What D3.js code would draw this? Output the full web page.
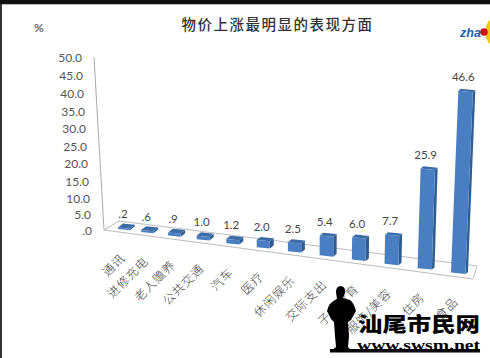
<!DOCTYPE html>
<html>
<head>
<meta charset="utf-8">
<script src="https://cdn.jsdelivr.net/npm/d3@7"></script>
<style>
  html, body { margin: 0; padding: 0; background: #fff; overflow: hidden; }
</style>
</head>
<body>
<div id="chart"></div>
<script>
// Price rise chart, fake 3D column look like the Excel original
const categories = ["通讯", "进修充电", "老人赡养", "公共交通", "汽车", "医疗", "休闲娱乐", "交际支出", "子女教育", "服饰/美容", "住房", "食品"];
const values = [0.2, 0.6, 0.9, 1.0, 1.2, 2.0, 2.5, 5.4, 6.0, 7.7, 25.9, 46.6];
const ticks = [0, 5, 10, 15, 20, 25, 30, 35, 40, 45, 50];

const width = 490, height = 358;
const sans = "Lato, 'Noto Sans CJK SC', sans-serif";
const cjk = "'Noto Sans CJK SC', sans-serif";

const svg = d3.select("#chart").append("svg")
  .attr("width", width)
  .attr("height", height)
  .style("display", "block");

// screenshot edge
svg.append("rect").attr("width", width).attr("height", 4).attr("fill", "#111");
svg.append("rect").attr("y", 4).attr("width", width).attr("height", 1).attr("fill", "#bbb");
svg.append("rect").attr("y", 4).attr("width", 2).attr("height", height).attr("fill", "#333");

// Projection scales: columns get wider apart toward the viewer on the right
const baseX = d3.scalePow().exponent(1.11).domain([0, 11]).range([118, 451]);
const baseY = d3.scaleLinear().domain([118, 451]).range([229, 272.5]);
const lean = d3.scaleLinear().domain([104, 450]).range([-0.058, 0.04]);
const unit = d3.scaleLinear().domain([0, 11]).range([3.3, 3.9]);
const faceW = d3.scaleLinear().domain([0, 11]).range([12, 14.5]);
const depthX = d3.scaleLinear().domain([0, 11]).range([5, 2.5]);
const depthY = d3.scaleLinear().domain([0, 11]).range([4, 2]);

// slanted value axis
const y = d3.scalePow().exponent(1.04).domain([0, 50]).range([231, 58]);
const axisX = d3.scaleLinear().domain([0, 50]).range([104, 94]);

const axisG = svg.append("g");
axisG.append("line")
  .attr("x1", axisX(0)).attr("y1", y(0) - 1)
  .attr("x2", axisX(50)).attr("y2", y(50) - 1)
  .attr("stroke", "#aaa");

axisG.selectAll("text")
  .data(ticks)
  .join("text")
  .attr("x", d => axisX(d) - 12)
  .attr("y", d => y(d))
  .attr("dy", "0.35em")
  .attr("text-anchor", "end")
  .style("font-family", sans)
  .style("font-size", "12px")
  .style("fill", "#555")
  .text(d => d === 0 ? ".0" : d3.format(".1f")(d));

// floor
svg.append("polygon")
  .attr("points", "104,230 119,221 477,266 473,279")
  .attr("fill", "#fff")
  .attr("stroke", "#bcbcbc");

// columns
const bars = svg.append("g").selectAll("g")
  .data(values)
  .join("g");

function corners(d, i) {
  const x0 = baseX(i), y0 = baseY(x0);
  const h = Math.max(d * unit(i), 1.5);
  const w = faceW(i);
  const tx = x0 + h * lean(x0);
  return { x0, y0, h, w, tx, ty: y0 - h, dx: depthX(i), dy: depthY(i), s: 0.1 * w };
}

// side face
bars.append("path")
  .attr("fill", "#2f5d92")
  .attr("d", (d, i) => {
    const c = corners(d, i);
    return `M${c.tx + c.w},${c.ty + c.s}L${c.tx + c.w + c.dx},${c.ty + c.s - c.dy}L${c.x0 + c.w + c.dx},${c.y0 + c.s - c.dy}L${c.x0 + c.w},${c.y0 + c.s}Z`;
  });

// top face
bars.append("path")
  .attr("fill", "#3b6ca6")
  .attr("d", (d, i) => {
    const c = corners(d, i);
    return `M${c.tx},${c.ty}L${c.tx + c.dx},${c.ty - c.dy}L${c.tx + c.w + c.dx},${c.ty + c.s - c.dy}L${c.tx + c.w},${c.ty + c.s}Z`;
  });

// front face
bars.append("path")
  .attr("fill", "#4a7ec2")
  .attr("d", (d, i) => {
    const c = corners(d, i);
    return `M${c.tx},${c.ty}L${c.tx + c.w},${c.ty + c.s}L${c.x0 + c.w},${c.y0 + c.s}L${c.x0},${c.y0}Z`;
  });

// value labels, Excel style without the leading zero
bars.append("text")
  .attr("x", (d, i) => corners(d, i).tx + 5)
  .attr("y", (d, i) => corners(d, i).ty - 13.5)
  .attr("dy", "0.35em")
  .attr("text-anchor", "middle")
  .style("font-family", sans)
  .style("font-size", "11.5px")
  .style("fill", "#444")
  .text(d => d3.format(".1f")(d).replace(/^0/, ""));

// category labels
svg.append("g").selectAll("text")
  .data(categories)
  .join("text")
  .attr("transform", (d, i) => {
    const x0 = baseX(i);
    return `translate(${x0 + 5},${baseY(x0) + 27}) rotate(-45)`;
  })
  .attr("dy", "0.35em")
  .attr("text-anchor", "end")
  .style("font-family", cjk)
  .style("font-size", "12px")
  .style("font-weight", "300")
  .style("letter-spacing", "1px")
  .style("fill", "#444")
  .text(d => d);

// title and unit
svg.append("text")
  .attr("x", 277.5)
  .attr("y", 25)
  .attr("dy", "0.35em")
  .attr("text-anchor", "middle")
  .style("font-family", cjk)
  .style("font-size", "14.5px")
  .style("font-weight", "500")
  .style("letter-spacing", "1.5px")
  .style("fill", "#333")
  .text("物价上涨最明显的表现方面");

svg.append("text")
  .attr("x", 34)
  .attr("y", 28)
  .attr("dy", "0.35em")
  .style("font-family", sans)
  .style("font-size", "12px")
  .style("font-weight", "bold")
  .style("fill", "#666")
  .text("%");

// logo in the corner, cut off by the edge
svg.append("ellipse").attr("cx", 494).attr("cy", 32).attr("rx", 9).attr("ry", 13).attr("fill", "#f5c518");
svg.append("circle").attr("cx", 484).attr("cy", 32).attr("r", 3.8).attr("fill", "#c8161d");
svg.append("text")
  .attr("x", 460)
  .attr("y", 36.5)
  .style("font-family", "'Liberation Sans', sans-serif")
  .style("font-size", "12.5px")
  .style("font-weight", "bold")
  .style("font-style", "italic")
  .style("fill", "#1f5fa8")
  .text("zha");

// watermark on top of everything
const mark = svg.append("g");
mark.append("path")
  .attr("fill", "#000")
  .attr("d", "M336,292 Q336,286 341,286 Q346,287 345,293 L343,298 L350,300 Q354,303 356,311 L351,320 L348,322 L349,336 L348,347 L351,350 L332,350 L336,347 L335,336 L334,322 L331,319 L327,311 Q329,302 337,299 Z");
mark.append("rect").attr("x", 330).attr("y", 349).attr("width", 150).attr("height", 3.5).attr("fill", "#000");
mark.append("text")
  .attr("x", 358)
  .attr("y", 331.5)
  .attr("textLength", 122)
  .attr("lengthAdjust", "spacingAndGlyphs")
  .style("font-family", cjk)
  .style("font-size", "20px")
  .style("font-weight", "900")
  .style("fill", "#000")
  .text("汕尾市民网");
mark.append("text")
  .attr("x", 357)
  .attr("y", 350)
  .attr("textLength", 123)
  .attr("lengthAdjust", "spacingAndGlyphs")
  .style("font-family", "'Liberation Serif', serif")
  .style("font-size", "15px")
  .style("font-weight", "bold")
  .style("fill", "#000")
  .text("www.swsm.net");
</script>
</body>
</html>
